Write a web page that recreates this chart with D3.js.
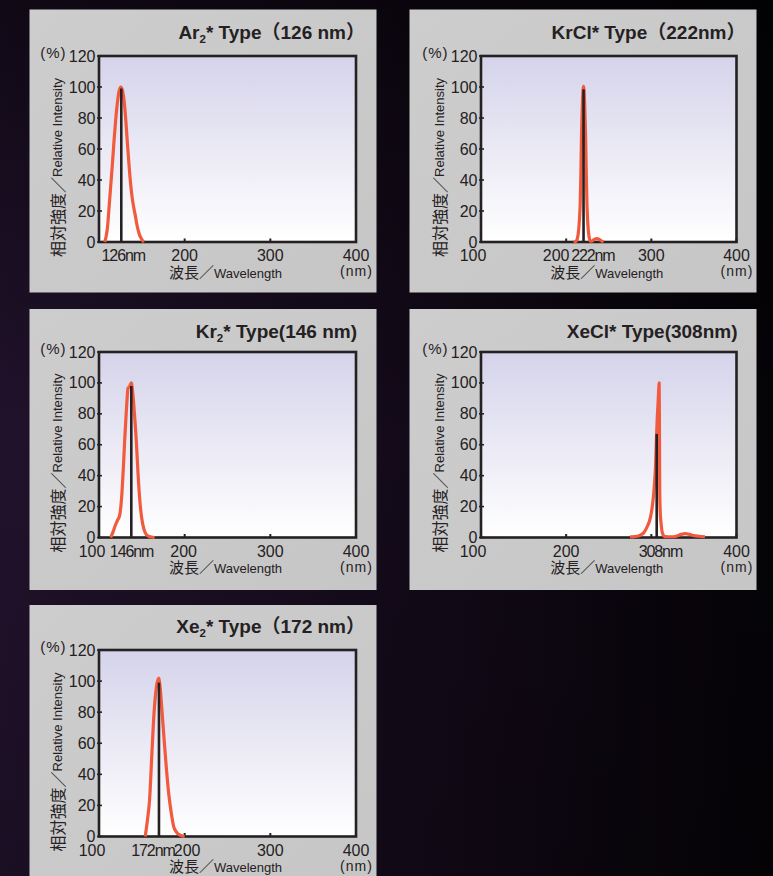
<!DOCTYPE html>
<html><head><meta charset="utf-8">
<script src="https://cdn.jsdelivr.net/npm/d3@7"></script>
<style>html,body{margin:0;padding:0;background:#000;overflow:hidden}svg{display:block}</style>
</head><body>
<svg id="chart" width="773" height="876"></svg>
<script>
// ---------------- data ----------------
const titleHead = ["Ar", "KrCl*", "Kr", "XeCl*", "Xe"];
const titleSub  = ["2", "", "2", "", "2"];
const titleTail = ["* Type（126 nm）", " Type（222nm）", "* Type(146 nm)", " Type(308nm)", "* Type（172 nm）"];

const yTicks = [0, 20, 40, 60, 80, 100, 120];
const xTickMarks = [100, 200, 300, 400];

const xLabelValues = [
  [126, 200, 300, 400],
  [100, 200, 222, 300, 400],
  [100, 138, 200, 300, 400],
  [100, 200, 306, 400],
  [100, 170, 200, 300, 400]
];
const xLabelTexts = [
  ["126nm", "200", "300", "400"],
  ["100", "200", "222nm", "300", "400"],
  ["100", "146nm", "200", "300", "400"],
  ["100", "200", "308nm", "400"],
  ["100", "172nm", "200", "300", "400"]
];

const ar2Wavelength = [106.6,108.2,110,111.3,113.5,115.6,117.5,119.5,121.5,123.5,125.5,127.5,129.5,131.1,133,135,137,139,141,142.4,144.5,146.5,148.6,150.5,152.5];
const ar2Intensity  = [0,3.2,10,19,35,50,65,79,90,97.5,100,97.5,90,80,65,50,37,27.5,21,17,10.5,6,3,1.2,0];

const krclWavelength = [208.7,211,213,214.6,215.5,216.5,217.3,218,219,219.8,220.4,221,221.8,222.8,223.6,224.4,225.2,226,227,228.3,230,232,234,236.2,238.5,241,243.9];
const krclIntensity  = [0,0.3,2,7.5,14,25,45,68,88,98,100.5,98,88,68,45,25,14,7.5,3,0.5,0.6,1.3,2,2.2,1.8,0.8,0];

const kr2Wavelength = [113.6,116.3,119.1,121.5,124.1,125.5,126.8,128.5,130,131.5,132.7,133.8,135.5,137.7,139.5,141.5,143.5,145.5,147.5,149.5,151.3,154,157.2,161,165];
const kr2Intensity  = [0,3.5,7.9,11,14.3,20,29,46,63,78,89,96.5,97.5,100,93,79,63,42,25,14,8,3,1,0.3,0];

const xeclWavelength = [275,280,285,288,291,295,298,300,302,303,304,305,306,307,308,308.8,309.2,309.6,309.9,310.5,311.5,312.5,314,316,320,326,330,335,340,345,350,356,363];
const xeclIntensity  = [0.4,0.6,1,1.8,3,6.9,11,16,24,30,37,47,64,78,88,97,100,60,28,16,9,4,1.5,0.6,0.5,0.5,1,2,2.5,2,1.2,0.8,0.5];

const xe2Wavelength = [154,156.4,159.1,161.8,164.2,167,169.6,171.5,173.5,175.8,178.5,181.3,184.4,187.2,190.2,194,200];
const xe2Intensity  = [0,10,24,54,79,96,102,95,81,64,45,28,15,6.4,3,1,0];

const peakWavelength = [126, 220.4, 137.7, 306.3, 170];
const peakIntensity  = [99, 98.5, 98, 67, 99];

const spectraWavelength = [ar2Wavelength, krclWavelength, kr2Wavelength, xeclWavelength, xe2Wavelength];
const spectraIntensity  = [ar2Intensity, krclIntensity, kr2Intensity, xeclIntensity, xe2Intensity];

// ---------------- layout / style ----------------
const layout = [
  {px: 29.5, py: 9.5, pw: 347, ph: 283, l: 99,  t: 56,  w: 257,   h: 186,   titleDy: -16.7, titleDx: 9},
  {px: 409.5,py: 9.5, pw: 347, ph: 283, l: 481, t: 56,  w: 255.5, h: 186,   titleDy: -16.7, titleDx: 9},
  {px: 29.5, py: 309, pw: 347, ph: 281, l: 99,  t: 352, w: 257,   h: 185.5, titleDy: -14.3, titleDx: 1},
  {px: 409.5,py: 309, pw: 347, ph: 281, l: 481, t: 352, w: 255.5, h: 185.5, titleDy: -14.3, titleDx: 1},
  {px: 29.5, py: 605, pw: 347, ph: 290, l: 99,  t: 650, w: 257,   h: 186.5, titleDy: -16.7, titleDx: 9}
];
const labelShift = [
  [2, 0, 0, 0],
  [-8, -10, 8, 0, 0],
  [-7, 0, -1, 0, 0],
  [-8, 0, 4, 0],
  [-7, -6, 2.5, 0, 0]
];
const INK = "#252122";
const RED = "#f15a3c";
const LATIN = "'Liberation Sans', Arial, Helvetica, 'Noto Sans CJK JP', sans-serif";
const CJK = "'Noto Sans CJK JP', 'Noto Sans CJK SC', sans-serif";

const svg = d3.select("#chart");
const defs = svg.append("defs");

const bgH = defs.append("linearGradient").attr("id", "bgH").attr("x1", 0).attr("x2", 1).attr("y1", 0).attr("y2", 0);
bgH.append("stop").attr("offset", 0).attr("stop-color", "#241430");
bgH.append("stop").attr("offset", 0.55).attr("stop-color", "#150b1b");
bgH.append("stop").attr("offset", 1).attr("stop-color", "#050307");
const bgV = defs.append("linearGradient").attr("id", "bgV").attr("x1", 0).attr("x2", 0).attr("y1", 0).attr("y2", 1);
bgV.append("stop").attr("offset", 0).attr("stop-color", "#000").attr("stop-opacity", 0.55);
bgV.append("stop").attr("offset", 0.5).attr("stop-color", "#000").attr("stop-opacity", 0.1);
bgV.append("stop").attr("offset", 1).attr("stop-color", "#000").attr("stop-opacity", 0.25);

const panelGrad = defs.append("linearGradient").attr("id", "panelGrad").attr("x1", 0).attr("x2", 1).attr("y1", 0).attr("y2", 1);
panelGrad.append("stop").attr("offset", 0).attr("stop-color", "#cdcdcd");
panelGrad.append("stop").attr("offset", 1).attr("stop-color", "#c6c6c6");

const plotGrad = defs.append("linearGradient").attr("id", "plotGrad").attr("x1", 0).attr("x2", 0).attr("y1", 0).attr("y2", 1);
plotGrad.append("stop").attr("offset", 0).attr("stop-color", "#d5d3ea");
plotGrad.append("stop").attr("offset", 1).attr("stop-color", "#ffffff");

svg.append("rect").attr("width", 773).attr("height", 876).attr("fill", "url(#bgH)");
svg.append("rect").attr("width", 773).attr("height", 876).attr("fill", "url(#bgV)");

layout.forEach((L, i) => {
  const g = svg.append("g");
  g.append("rect").attr("x", L.px).attr("y", L.py).attr("width", L.pw).attr("height", L.ph).attr("fill", "url(#panelGrad)");

  const x = d3.scaleLinear().domain([100, 400]).range([L.l, L.l + L.w]);
  const y = d3.scaleLinear().domain([0, 120]).range([L.t + L.h, L.t]);

  // plot background
  g.append("rect").attr("x", L.l).attr("y", L.t).attr("width", L.w).attr("height", L.h).attr("fill", "url(#plotGrad)");

  // ticks
  g.selectAll(".xt").data(xTickMarks).enter().append("line")
    .attr("x1", d => x(d)).attr("x2", d => x(d))
    .attr("y1", y(0)).attr("y2", y(0) - 3.5)
    .attr("stroke", INK).attr("stroke-width", 2);
  g.selectAll(".yt").data(yTicks).enter().append("line")
    .attr("x1", L.l - 2).attr("x2", L.l + 3)
    .attr("y1", d => y(d)).attr("y2", d => y(d))
    .attr("stroke", INK).attr("stroke-width", 1.6);

  // spectrum
  const pts = spectraWavelength[i].map((w, k) => [w, spectraIntensity[i][k]]);
  const line = d3.line().x(d => x(d[0])).y(d => y(d[1])).curve(d3.curveMonotoneX);

  // frame
  g.append("rect").attr("x", L.l).attr("y", L.t).attr("width", L.w).attr("height", L.h)
    .attr("fill", "none").attr("stroke", INK).attr("stroke-width", 2.6);

  g.append("path").datum(pts).attr("d", line)
    .attr("fill", "none").attr("stroke", RED).attr("stroke-width", 3.2)
    .attr("stroke-linejoin", "round").attr("stroke-linecap", "butt");

  // peak line
  g.append("line")
    .attr("x1", x(peakWavelength[i])).attr("x2", x(peakWavelength[i]))
    .attr("y1", y(0)).attr("y2", y(peakIntensity[i]))
    .attr("stroke", INK).attr("stroke-width", 2.6);

  // y tick labels
  g.selectAll(".yl").data(yTicks).enter().append("text")
    .attr("x", L.l - 3.5).attr("y", d => y(d))
    .attr("text-anchor", "end").attr("dominant-baseline", "central")
    .attr("font-family", LATIN).attr("font-size", 16).attr("fill", INK)
    .text(d => d);

  // (%)
  g.append("text").attr("x", L.l - 32.5).attr("y", L.t - 3.3)
    .attr("text-anchor", "end").attr("dominant-baseline", "central")
    .attr("font-family", LATIN).attr("font-size", 15).attr("letter-spacing", 1).attr("fill", INK)
    .text("(%)");

  // x tick labels
  g.selectAll(".xl").data(xLabelValues[i]).enter().append("text")
    .attr("x", (d, k) => x(d) + labelShift[i][k]).attr("y", y(0) + 13.5)
    .attr("text-anchor", "middle").attr("dominant-baseline", "central")
    .attr("font-family", LATIN).attr("font-size", 16).attr("fill", INK)
    .attr("letter-spacing", (d, k) => /nm/.test(xLabelTexts[i][k]) ? -1.1 : 0)
    .text((d, k) => xLabelTexts[i][k]);

  // (nm)
  g.append("text").attr("x", L.l + L.w + 0.5).attr("y", y(0) + 29)
    .attr("text-anchor", "middle").attr("dominant-baseline", "central")
    .attr("font-family", LATIN).attr("font-size", 14).attr("letter-spacing", 1).attr("fill", INK)
    .text("(nm)");

  // x axis title
  const xt = g.append("text").attr("x", L.l + L.w / 2 - 2).attr("y", y(0) + 35.5)
    .attr("text-anchor", "middle").attr("fill", INK);
  xt.append("tspan").attr("font-family", CJK).attr("font-size", 15).text("波長／");
  xt.append("tspan").attr("font-family", LATIN).attr("font-size", 13).text("Wavelength");

  // y axis title
  const yt = g.append("text")
    .attr("transform", `translate(${L.l - 42},${y(0) + 15}) rotate(-90)`)
    .attr("text-anchor", "start").attr("dominant-baseline", "central").attr("fill", INK);
  yt.append("tspan").attr("font-family", CJK).attr("font-size", 16).text("相対強度／");
  yt.append("tspan").attr("font-family", LATIN).attr("font-size", 13).text("Relative Intensity");

  // title
  const tt = g.append("text").attr("x", L.l + L.w + L.titleDx).attr("y", L.t + L.titleDy)
    .attr("text-anchor", "end").attr("font-family", LATIN).attr("font-weight", "bold")
    .attr("font-size", 19).attr("fill", INK);
  tt.append("tspan").text(titleHead[i]);
  if (titleSub[i]) tt.append("tspan").attr("font-size", 11.5).attr("dy", 4).text(titleSub[i]);
  tt.append("tspan").attr("dy", titleSub[i] ? -4 : 0).text(titleTail[i]);
});
</script>
</body></html>
